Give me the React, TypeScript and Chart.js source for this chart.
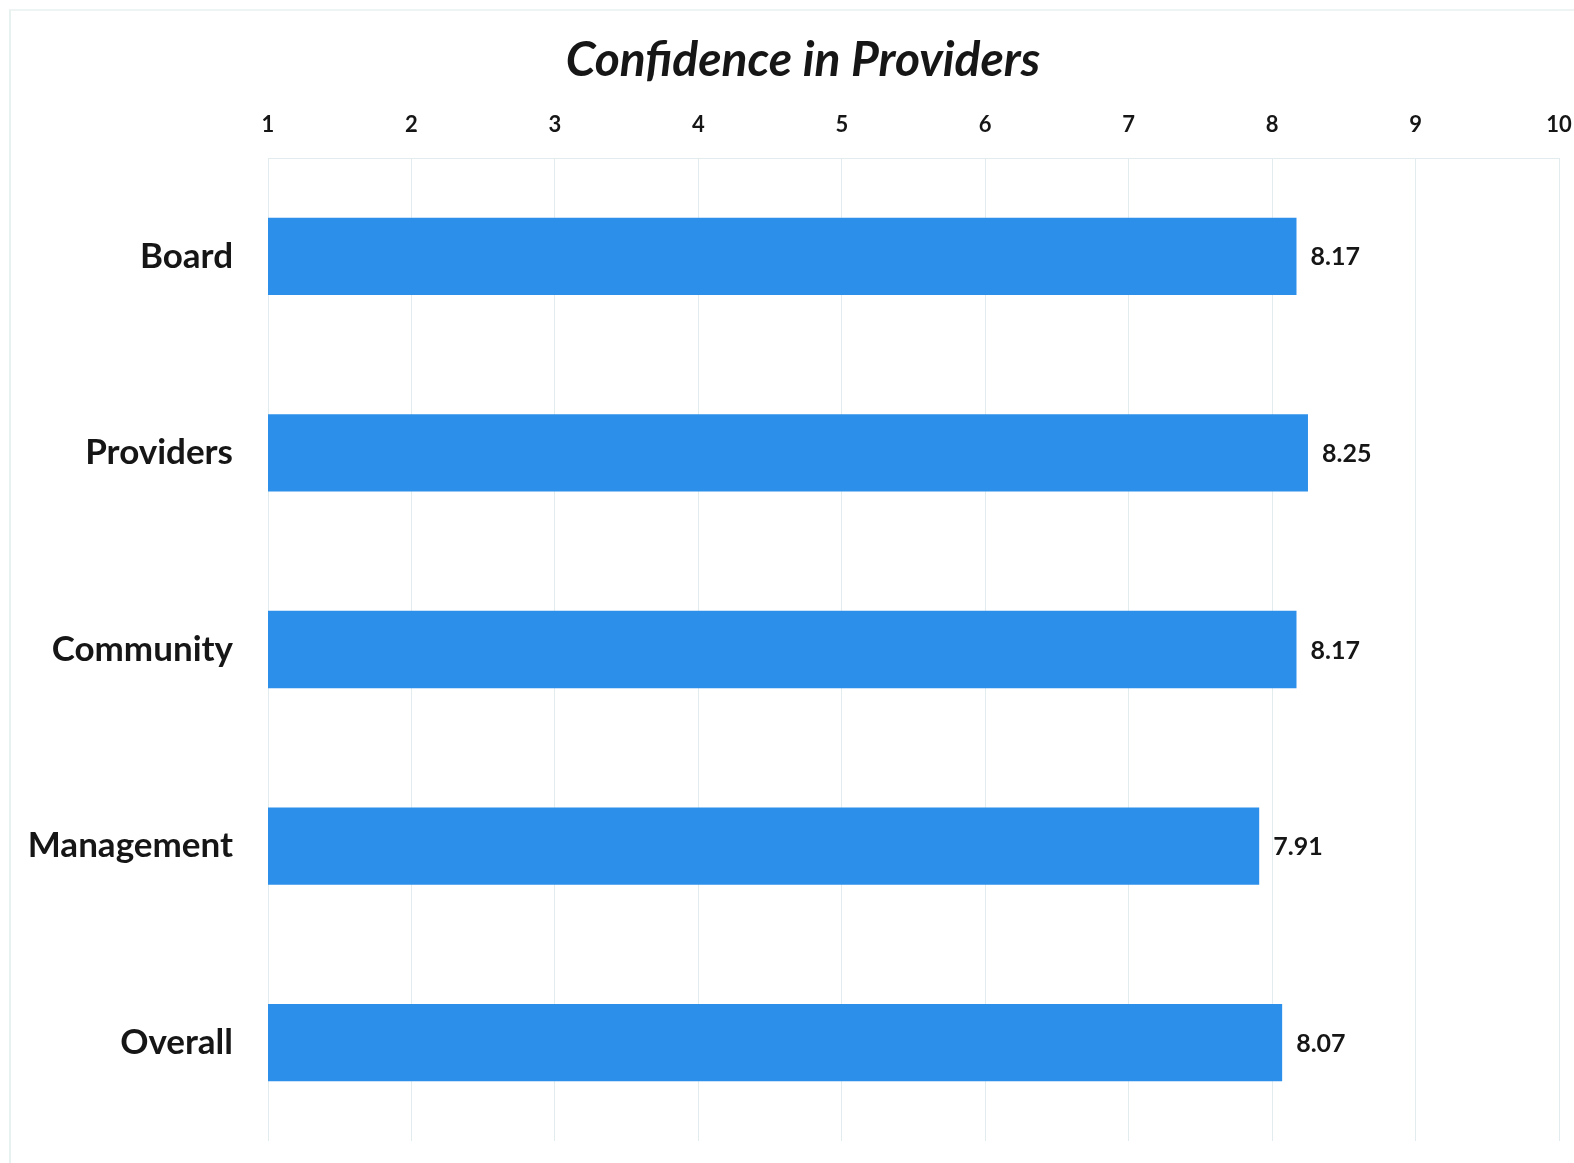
import React, { useEffect, useRef } from "react";
import { Chart, registerables } from "chart.js";

Chart.register(...registerables);

const categories = ["Board", "Providers", "Community", "Management", "Overall"];
const scores = [8.17, 8.25, 8.17, 7.91, 8.07];
const scaleMin = 1;
const scaleMax = 10;
const chartTitle = "Confidence in Providers";

const FONT = "Lato, 'Open Sans', sans-serif";
const BAR_BLUE = "#2C8FEA";
const GRID = "#e2ecee";
const INK = "#161616";

// Heading drawn in the space reserved above the top axis
const headingPlugin = {
  id: "heading",
  afterDraw(chart: Chart) {
    const { ctx, width } = chart;
    ctx.save();
    ctx.font = `italic bold 48px ${FONT}`;
    ctx.fillStyle = INK;
    ctx.textAlign = "center";
    ctx.textBaseline = "middle";
    ctx.fillText(chartTitle, width / 2 + 16, 61);
    ctx.restore();
  },
};

// Writes each bar's score just past its end
const valueLabels = {
  id: "valueLabels",
  afterDatasetsDraw(chart: Chart) {
    const { ctx } = chart;
    const meta = chart.getDatasetMeta(0);
    ctx.save();
    ctx.font = `bold 25px ${FONT}`;
    ctx.fillStyle = INK;
    ctx.textAlign = "left";
    ctx.textBaseline = "middle";
    meta.data.forEach((bar: any, i: number) => {
      ctx.fillText(scores[i].toFixed(2), bar.x + 14, bar.y + 1);
    });
    ctx.restore();
  },
};

export default function App() {
  const canvasRef = useRef<HTMLCanvasElement | null>(null);

  useEffect(() => {
    if (!canvasRef.current) return;
    const chart = new Chart(canvasRef.current, {
      type: "bar",
      data: {
        labels: categories,
        datasets: [
          {
            data: scores,
            backgroundColor: BAR_BLUE,
            borderWidth: 0,
            barPercentage: 0.393,
            categoryPercentage: 1,
          },
        ],
      },
      options: {
        indexAxis: "y",
        animation: false,
        responsive: true,
        maintainAspectRatio: false,
        layout: { padding: { left: 0, right: 15, top: 100, bottom: 22 } },
        plugins: {
          legend: { display: false },
          tooltip: { enabled: false },
          title: { display: false },
        },
        scales: {
          x: {
            type: "linear",
            position: "top",
            min: scaleMin,
            max: scaleMax,
            ticks: {
              stepSize: 1,
              color: INK,
              font: { family: FONT, size: 22, weight: "bold" },
              padding: 20,
            },
            grid: { color: GRID, lineWidth: 1, drawTicks: false },
            border: { display: true, color: GRID },
            afterFit(scale: any) {
              scale.height = 58;
              scale.paddingLeft = 0;
              scale.paddingRight = 0;
            },
          },
          y: {
            ticks: {
              color: INK,
              font: { family: FONT, size: 35, weight: "bold" },
              padding: 35,
            },
            grid: { display: false, drawTicks: false },
            border: { display: false },
            afterFit(scale: any) {
              scale.width = 268;
              scale.paddingTop = 0;
              scale.paddingBottom = 0;
            },
          },
        },
      },
      plugins: [valueLabels, headingPlugin],
    });
    return () => chart.destroy();
  }, []);

  return (
    <div
      style={{
        position: "fixed",
        left: 0,
        top: 0,
        width: 1574,
        height: 1163,
        background: "#ffffff",
      }}
    >
      <div
        style={{
          position: "absolute",
          left: 9,
          top: 9,
          right: 0,
          bottom: 0,
          borderLeft: "2px solid #e6f1f0",
          borderTop: "2px solid #eef4f3",
        }}
      />
      <canvas ref={canvasRef} style={{ position: "absolute", left: 0, top: 0 }} />
    </div>
  );
}
